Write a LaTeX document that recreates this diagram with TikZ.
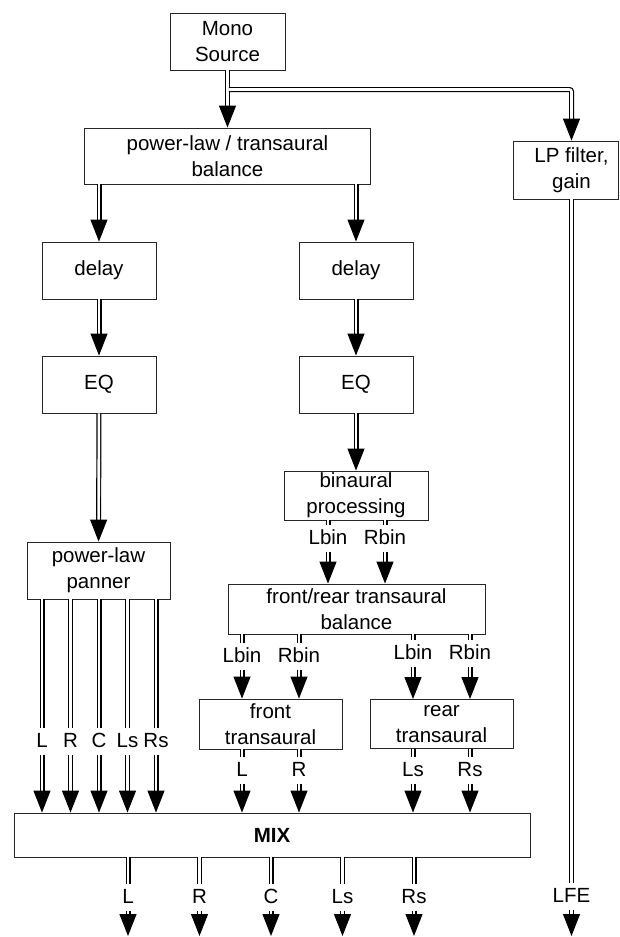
\documentclass[tikz,border=0pt]{standalone}
\usepackage{fontspec}
\setmainfont{Liberation Sans}
\usetikzlibrary{arrows.meta}
\begin{document}
\begin{tikzpicture}[x=1pt,y=-1pt,
  box/.style={draw=black!85, line width=0.9pt, font=\fontsize{20.5}{26}\selectfont, align=center, inner sep=0pt},
  sig/.style={draw, line width=1.2pt, double=white, double distance=2.6pt, -{Triangle[length=22pt,width=17pt]}},
  lab/.style={fill=white, inner xsep=1pt, inner ysep=4.5pt, text height=15pt, text depth=3pt, font=\fontsize{20.5}{26}\selectfont}]
\useasboundingbox (0,0) rectangle (619,937);
% boxes
\node[box, minimum width=115pt, minimum height=57pt] (mono) at (227.5,41.5) {Mono\\Source};
\node[box, minimum width=286pt, minimum height=56pt] (plt) at (227.5,156) {power-law / transaural\\balance};
\node[box, draw=none, minimum width=117pt, minimum height=58pt] (lp) at (571.5,170) {LP filter,\\gain};
\draw[black!85, line width=0.9pt] (513,141) rectangle (618.5,199);
\node[box, minimum width=114pt, minimum height=57pt] (delayL) at (99,270.5) {delay};
\node[box, minimum width=114pt, minimum height=57pt] (delayR) at (356,270.5) {delay};
\node[box, minimum width=114pt, minimum height=57pt] (eqL) at (99,384.5) {EQ};
\node[box, minimum width=114pt, minimum height=57pt] (eqR) at (356,384.5) {EQ};
\node[box, minimum width=144pt, minimum height=49pt] (bin) at (356,495.5) {binaural\\processing};
\node[box, minimum width=143pt, minimum height=57pt] (pan) at (98.5,570.5) {power-law\\panner};
\node[box, minimum width=257pt, minimum height=50pt] (fr) at (356.5,609) {front/rear transaural\\balance};
\node[box, minimum width=143pt, minimum height=50pt] (ft) at (270.5,724) {front\\transaural};
\node[box, minimum width=143pt, minimum height=49pt] (rt) at (441.5,724) {rear\\transaural};
\node[box, minimum width=516pt, minimum height=44pt] (mix) at (272,835) {\textbf{MIX}};
% connectors
\draw[sig] (mono.south) -- (plt.north);
\coordinate (br) at (228.8,89.5);
\draw[sig, rounded corners=2pt] (br) -| (lp.north);
\draw[sig] (plt.south -| delayL.north) -- (delayL.north);
\draw[sig] (plt.south -| delayR.north) -- (delayR.north);
\draw[sig] (delayL) -- (eqL);
\draw[sig] (delayR) -- (eqR);
\draw[sig] (eqL) -- (pan);
\draw[sig] (eqR) -- (bin);
\draw[sig] (bin.south -| 328,0) -- node[lab,pos=0.29]{Lbin} (fr.north -| 328,0);
\draw[sig] (bin.south -| 385,0) -- node[lab,pos=0.29]{Rbin} (fr.north -| 385,0);
\draw[sig] (fr.south -| 242,0) -- node[lab,pos=0.34]{Lbin} (ft.north -| 242,0);
\draw[sig] (fr.south -| 299,0) -- node[lab,pos=0.34]{Rbin} (ft.north -| 299,0);
\draw[sig] (fr.south -| 413,0) -- node[lab,pos=0.30]{Lbin} (rt.north -| 413,0);
\draw[sig] (fr.south -| 470,0) -- node[lab,pos=0.30]{Rbin} (rt.north -| 470,0);
\draw[sig] (ft.south -| 242,0) -- node[lab,pos=0.34]{L} (mix.north -| 242,0);
\draw[sig] (ft.south -| 299,0) -- node[lab,pos=0.34]{R} (mix.north -| 299,0);
\draw[sig] (rt.south -| 413,0) -- node[lab,pos=0.34]{Ls} (mix.north -| 413,0);
\draw[sig] (rt.south -| 470,0) -- node[lab,pos=0.34]{Rs} (mix.north -| 470,0);
\foreach \x/\t in {42/L,70.5/R,99/C,127.5/Ls,156/Rs}
  \draw[sig] (pan.south -| \x,0) -- node[lab,pos=0.668]{\t} (mix.north -| \x,0);
\foreach \x/\t in {128/L,199.5/R,271/C,342.5/Ls,414/Rs}{
  \coordinate (o\t) at (\x,936);
  \draw[sig] (mix.south -| \x,0) -- node[lab,pos=0.506]{\t} (o\t);
}
\coordinate (oLFE) at (571.5,936);
\draw[sig] (lp.south) -- node[lab,pos=0.947]{LFE} (oLFE);
\end{tikzpicture}
\end{document}
